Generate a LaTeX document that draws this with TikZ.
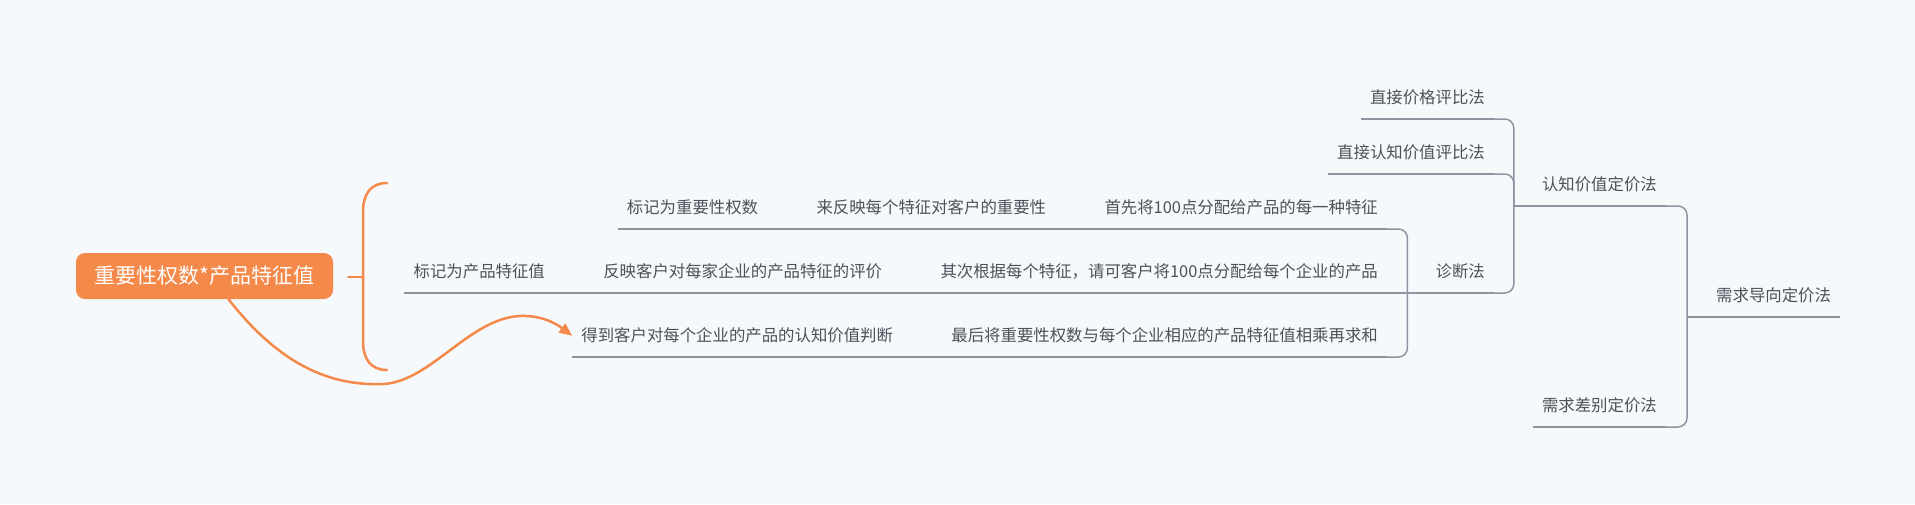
\documentclass[tikz,border=0pt]{standalone}
\usepackage{fontspec}
\setmainfont{Noto Sans CJK SC}
\usetikzlibrary{positioning,arrows.meta}
\definecolor{bgc}{HTML}{F6F9FC}
\definecolor{linec}{HTML}{8C95A1}
\definecolor{txtc}{HTML}{4D5159}
\definecolor{orng}{HTML}{F5894A}

\tikzset{
  topic/.style={inner xsep=9pt,inner ysep=13pt,text height=14pt,text depth=2pt,
    text=txtc,font=\fontsize{16.4}{20}\selectfont},
  link/.style={draw=linec,line width=1.5pt,rounded corners=9pt},
  central/.style={fill=orng,rounded corners=9pt,text=white,minimum width=257pt,
    minimum height=46pt,inner sep=0pt,font=\fontsize{21}{25}\selectfont},
  sumline/.style={draw=orng,line width=2.5pt,line cap=round},
}

\begin{document}
\begin{tikzpicture}[x=1pt,y=-1pt,node distance=40pt]
  \fill[bgc] (0,0) rectangle (1915,504);
  \useasboundingbox (0,0) rectangle (1915,504);
  % main branch
  \node[topic,anchor=south west] (dm) at (1707,317) {需求导向定价法};
  \node[topic,anchor=south east] (pv) at (1666,206) {认知价值定价法};
  \node[topic,anchor=south east] (dd) at (1666,427) {需求差别定价法};
  \node[topic,anchor=south east] (p1) at (1494,119) {直接价格评比法};
  \node[topic,anchor=south east] (p2) at (1494,174) {直接认知价值评比法};
  \node[topic,anchor=south east] (dx) at (1494,293) {诊断法};
  % steps of the diagnosis
  \node[topic,anchor=south east] (s1) at (1387,229) {首先将100点分配给产品的每一种特征};
  \node[topic,anchor=south east] (s2) at (1387,293) {其次根据每个特征，请可客户将100点分配给每个企业的产品};
  \node[topic,anchor=south east] (s3) at (1387,357) {最后将重要性权数与每个企业相应的产品特征值相乘再求和};
  \node[topic] (c1) [left=of s1] {来反映每个特征对客户的重要性};
  \node[topic] (c2) [left=of s2] {反映客户对每家企业的产品特征的评价};
  \node[topic] (c3) [left=of s3] {得到客户对每个企业的产品的认知价值判断};
  \node[topic] (m1) [left=of c1] {标记为重要性权数};
  \node[topic] (m2) [left=of c2] {标记为产品特征值};
  % summary
  \node[central] (wt) at (204.5,276) {重要性权数*产品特征值};

  \coordinate (dmj) at ([xshift=-20pt]dm.south west);
  \coordinate (pvj) at ([xshift=-19pt]pv.south west);
  \coordinate (dxj) at ([xshift=-19pt]dx.south west);

  \foreach \n in {dm,pv,dd,p1,p2,dx,s1,s2,s3,c1,c2,c3,m1,m2}
    \draw[link] (\n.south west) -- (\n.south east);

  \draw[link] (pv.south east) -| (dmj) |- (dd.south east);
  \draw[link] (dmj) -- (dm.south west);
  \draw[link] (p1.south east) -| (pvj) |- (dx.south east);
  \draw[link] (p2.south east) -| (pvj);
  \draw[link] (pvj) -- (pv.south west);
  \draw[link] (s1.south east) -| (dxj) |- (s3.south east);
  \draw[link] (s2.south east) -- (dxj) -- (dx.south west);
  \draw[link] (m1.south east) -- (c1.south west) (c1.south east) -- (s1.south west);
  \draw[link] (m2.south east) -- (c2.south west) (c2.south east) -- (s2.south west);
  \draw[link] (c3.south east) -- (s3.south west);

  % brace round the three results
  \coordinate (bm) at (363,277);
  \draw[sumline] (387,183) .. controls (370,183) and (363,195) .. (363,212)
    -- (363,341) .. controls (363,358) and (370,370) .. (387,370);
  \draw[sumline] (bm) -- ([xshift=15pt]wt.east |- bm);
  \draw[sumline,-{Triangle[length=13pt,width=11pt]}] ([xshift=24pt]wt.south)
    .. controls (280,365) and (330,386) .. (383,384)
    .. controls (430,382) and (470,318) .. (520,316)
    .. controls (543,315) and (558,325) .. (c3.west);
\end{tikzpicture}
\end{document}
